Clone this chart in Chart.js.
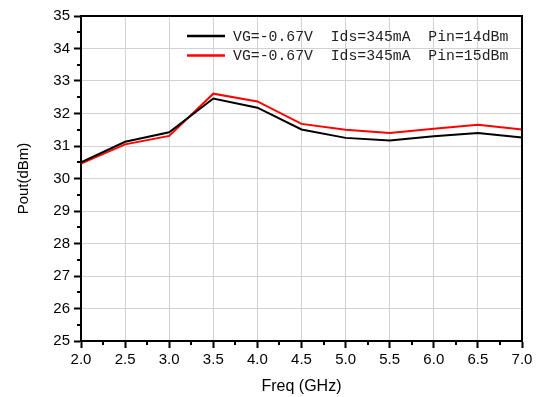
<!DOCTYPE html>
<html>
<head>
<meta charset="utf-8">
<script src="https://cdn.jsdelivr.net/npm/chart.js@4/dist/chart.umd.min.js"></script>
<style>
html,body{margin:0;padding:0;background:#fff;}
#wrap{width:541px;height:397px;position:relative;}
</style>
</head>
<body>
<div id="wrap"><canvas id="c" width="541" height="397"></canvas></div>
<script>
// ---- data ----
const freqGHz = [2.0, 2.5, 3.0, 3.5, 4.0, 4.5, 5.0, 5.5, 6.0, 6.5, 7.0];
const poutPin14 = [30.50, 31.13, 31.42, 32.46, 32.18, 31.51, 31.25, 31.17, 31.30, 31.40, 31.26];
const poutPin15 = [30.46, 31.05, 31.31, 32.61, 32.37, 31.68, 31.50, 31.40, 31.53, 31.65, 31.51];
const seriesLabels = ['VG=-0.67V  Ids=345mA  Pin=14dBm', 'VG=-0.67V  Ids=345mA  Pin=15dBm'];
const seriesColors = ['#000000', '#ff0000'];
const xTitle = 'Freq (GHz)';
const yTitle = 'Pout(dBm)';
const xMinorTicks = [2.25, 2.75, 3.25, 3.75, 4.25, 4.75, 5.25, 5.75, 6.25, 6.75];
const yMinorTicks = [25.5, 26.5, 27.5, 28.5, 29.5, 30.5, 31.5, 32.5, 33.5, 34.5];

const toXY = (xs, ys) => xs.map((x, i) => ({x: x, y: ys[i]}));

const framePlugin = {
  id: 'frame',
  afterDatasetsDraw(chart) {
    const {ctx, chartArea: a, scales} = chart;
    ctx.save();
    ctx.strokeStyle = '#000';
    ctx.lineWidth = 2;
    ctx.beginPath();
    ctx.moveTo(a.left, a.top);
    ctx.lineTo(a.right, a.top);
    ctx.lineTo(a.right, a.bottom);
    ctx.stroke();
    // minor ticks
    ctx.beginPath();
    xMinorTicks.forEach(v => {
      const px = Math.round(scales.x.getPixelForValue(v));
      ctx.moveTo(px, a.bottom);
      ctx.lineTo(px, a.bottom + 4);
    });
    yMinorTicks.forEach(v => {
      const py = Math.round(scales.y.getPixelForValue(v));
      ctx.moveTo(a.left, py);
      ctx.lineTo(a.left - 4, py);
    });
    ctx.stroke();
    // legend
    ctx.font = '14.8px "Liberation Mono", monospace';
    ctx.textBaseline = 'middle';
    ctx.textAlign = 'left';
    chart.data.datasets.forEach((ds, i) => {
      const y = a.top + 20 + i * 19.5;
      ctx.strokeStyle = ds.borderColor;
      ctx.lineWidth = 2.5;
      ctx.beginPath();
      ctx.moveTo(187, y);
      ctx.lineTo(225, y);
      ctx.stroke();
      ctx.fillStyle = '#222';
      ctx.fillText(ds.label, 233, y + 1);
    });
    ctx.restore();
  }
};

new Chart(document.getElementById('c'), {
  type: 'line',
  data: {
    datasets: [
      {label: seriesLabels[0], data: toXY(freqGHz, poutPin14), borderColor: seriesColors[0], backgroundColor: seriesColors[0], borderWidth: 2, pointRadius: 0, tension: 0},
      {label: seriesLabels[1], data: toXY(freqGHz, poutPin15), borderColor: seriesColors[1], backgroundColor: seriesColors[1], borderWidth: 2, pointRadius: 0, tension: 0}
    ]
  },
  options: {
    responsive: false,
    animation: false,
    devicePixelRatio: 1,
    layout: {padding: {top: 16, right: 19, left: 0, bottom: 0}},
    plugins: {legend: {display: false}, tooltip: {enabled: false}},
    scales: {
      x: {
        type: 'linear', min: 2, max: 7,
        afterFit(s) { s.height = 56; },
        ticks: {stepSize: 0.5, color: '#000', padding: 3, maxRotation: 0, autoSkip: false,
                font: {family: '"Liberation Sans", Arial, sans-serif', size: 15},
                callback: v => Number(v).toFixed(1)},
        grid: {color: '#d2d2d2', lineWidth: 1, drawTicks: true, tickLength: 7, tickColor: '#000', tickWidth: 2},
        border: {display: true, color: '#000', width: 2},
        title: {display: true, text: xTitle, color: '#000', padding: {top: 0, bottom: 1},
                font: {family: '"Liberation Sans", Arial, sans-serif', size: 16}}
      },
      y: {
        min: 25, max: 35,
        afterFit(s) { s.width = 81; },
        ticks: {stepSize: 1, color: '#000', padding: 4,
                font: {family: '"Liberation Sans", Arial, sans-serif', size: 15}},
        grid: {color: '#d2d2d2', lineWidth: 1, drawTicks: true, tickLength: 7, tickColor: '#000', tickWidth: 2},
        border: {display: true, color: '#000', width: 2},
        title: {display: true, text: yTitle, color: '#000', padding: {top: 14.5, bottom: 0},
                font: {family: '"Liberation Sans", Arial, sans-serif', size: 15}}
      }
    }
  },
  plugins: [framePlugin]
});
</script>
</body>
</html>
